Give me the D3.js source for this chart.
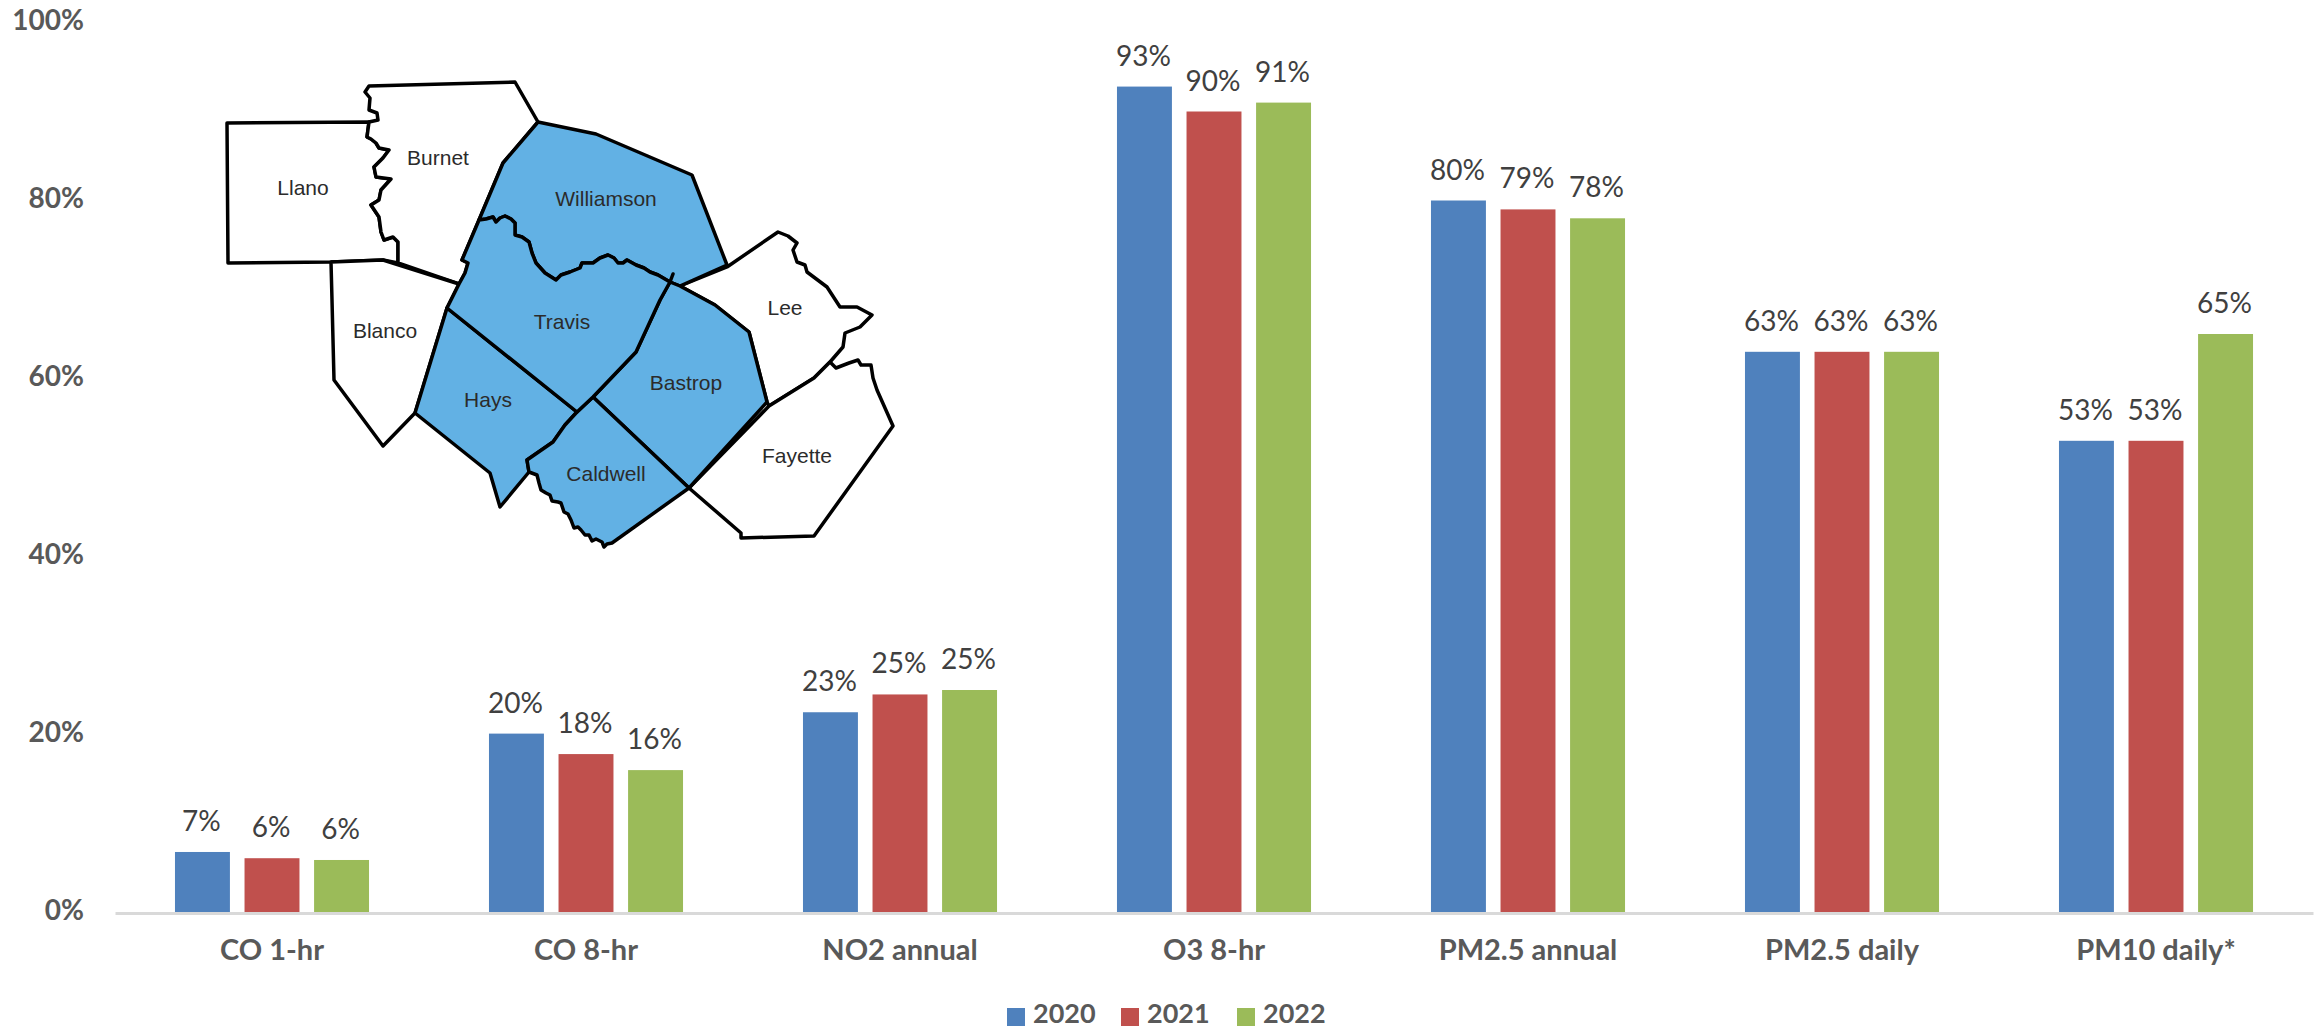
<!DOCTYPE html>
<html><head><meta charset="utf-8">
<style>html,body{margin:0;padding:0;background:#fff;overflow:hidden}svg{display:block}</style>
<script src="https://cdn.jsdelivr.net/npm/d3@7"></script></head>
<body><svg id="c" width="2321" height="1029"></svg>
<script>
const categories = ["CO 1-hr","CO 8-hr","NO2 annual","O3 8-hr","PM2.5 annual","PM2.5 daily","PM10 daily*"];
const years = ["2020","2021","2022"];
const values2020 = [6.8,20.1,22.5,92.8,80,63,53];
const values2021 = [6.1,17.8,24.5,90,79,63,53];
const values2022 = [5.9,16,25,91,78,63,65];
const labels2020 = ["7%","20%","23%","93%","80%","63%","53%"];
const labels2021 = ["6%","18%","25%","90%","79%","63%","53%"];
const labels2022 = ["6%","16%","25%","91%","78%","63%","65%"];
const yTicks = [0,20,40,60,80,100];
const seriesColors = ["#4F81BD","#C0504D","#9BBB59"];

// traced county borders (map picture coordinates)
const riverLlanoBurnet = [[369,122],[367,137],[371,139],[376,143],[379,148],[389,150],[383,158],[374,167],[376,177],[391,179],[381,190],[379,200],[371,205],[379,217],[381,232],[384,240],[393,237],[398,242],[398,263]];
const riverTravisWilliamson = [[479,220],[486,219],[493,217],[496,222],[500,218],[505,216],[511,219],[515,223],[515,235],[522,237],[529,242],[532,253],[536,263],[545,273],[556,280],[561,275],[570,272],[580,268],[582,263],[593,263],[600,258],[608,255],[614,258],[618,263],[623,263],[627,260],[636,265],[644,268],[650,272],[658,275],[670,282]];
const borderTravisBastrop = [[670,282],[660,300],[636,352],[593,397]];
const borderHaysCaldwell = [[577,412],[565,425],[553,442],[527,460],[529,472]];
const riverCaldwellSW = [[529,472],[537,475],[539,483],[541,490],[546,493],[550,495],[552,501],[558,502],[561,503],[564,512],[568,514],[571,520],[574,528],[578,527],[581,530],[585,535],[589,535],[592,541],[596,539],[602,542],[604,547],[607,544],[612,543]];
const riverLeeEast = [[778,232],[788,236],[797,243],[793,250],[797,262],[805,265],[807,272],[827,287],[840,307],[857,307],[872,315],[860,327],[845,333],[843,347],[830,362]];
const countyLlano = [[227,123],...riverLlanoBurnet,[383,260],[331,262],[228,263]];
const countyBurnet = [[369,86],[515,82],[538,122],[503,163],[479,220],[462,260],[468,263],[465,273],[459,284],[398,263],...riverLlanoBurnet.slice().reverse(),[378,120],[377,113],[369,110],[370,98],[365,92]];
const countyBlanco = [[331,262],[383,260],[459,284],[447,308],[415,413],[383,446],[334,380],[332,300]];
const countyWilliamson = [[538,122],[596,134],[692,175],[727,265],[680,286],[670,282],...riverTravisWilliamson.slice().reverse(),[503,163]];
const countyTravis = [...riverTravisWilliamson,[673,274],...borderTravisBastrop,[577,412],[447,308],[459,284],[465,273],[468,263],[462,260]];
const countyBastrop = [[680,286],[715,305],[749,332],[767,402],[689,488],[593,397],...borderTravisBastrop.slice().reverse()];
const countyHays = [[447,308],[577,412],...borderHaysCaldwell.slice(1),[500,507],[490,473],[415,413]];
const countyCaldwell = [[593,397],[689,488],[612,543],...riverCaldwellSW.slice().reverse(),...borderHaysCaldwell.slice().reverse()];
const countyFayette = [[689,488],[769,406],[814,378],[830,362],[836,368],[849,363],[858,360],[861,365],[871,365],[873,378],[877,390],[893,426],[814,536],[741,538],[741,533]];
const countyLee = [[680,286],[727,267],...riverLeeEast,[814,378],[769,406],[767,402],[749,332],[715,305]];
const mapCounties = [
 {name:"Llano",ring:countyLlano,served:false,at:[303,188]},
 {name:"Burnet",ring:countyBurnet,served:false,at:[438,158]},
 {name:"Blanco",ring:countyBlanco,served:false,at:[385,331]},
 {name:"Lee",ring:countyLee,served:false,at:[785,308]},
 {name:"Fayette",ring:countyFayette,served:false,at:[797,456]},
 {name:"Williamson",ring:countyWilliamson,served:true,at:[606,199]},
 {name:"Bastrop",ring:countyBastrop,served:true,at:[686,383]},
 {name:"Hays",ring:countyHays,served:true,at:[488,400]},
 {name:"Caldwell",ring:countyCaldwell,served:true,at:[606,474]},
 {name:"Travis",ring:countyTravis,served:true,at:[562,322]}
];

const W=2321,H=1029;
const left=115,right=2313,top0=22.5,base=912.5;
const font="Lato, Carlito, Calibri, sans-serif";
const svg=d3.select("#c");
const x=d3.scaleBand().domain(categories).range([left,right]).paddingInner(0.382).paddingOuter(0.191);
const xi=d3.scaleBand().domain(years).range([0,x.bandwidth()]).paddingInner(0.21);
const y=d3.scaleLinear().domain([0,100]).range([base,top0]);
const color=d3.scaleOrdinal(years,seriesColors);
const table=years.map((yr,i)=>({yr,vals:[values2020,values2021,values2022][i],labs:[labels2020,labels2021,labels2022][i]}));

// bars
const gs=svg.selectAll("g.s").data(table).join("g").attr("class","s").attr("fill",d=>color(d.yr));
gs.selectAll("rect").data(d=>d.vals.map((v,j)=>({v,c:categories[j],yr:d.yr}))).join("rect")
 .attr("x",d=>x(d.c)+xi(d.yr)).attr("width",xi.bandwidth())
 .attr("y",d=>y(d.v)).attr("height",d=>base-y(d.v));
// data labels
const gl=svg.selectAll("g.l").data(table).join("g").attr("class","l");
gl.selectAll("text").data(d=>d.labs.map((t,j)=>({t,v:d.vals[j],c:categories[j],yr:d.yr}))).join("text")
 .attr("x",d=>x(d.c)+xi(d.yr)+xi.bandwidth()/2-1).attr("y",d=>y(d.v)-21)
 .attr("text-anchor","middle").attr("font-family",font).attr("font-size",28).attr("fill","#404040").text(d=>d.t);

// x axis
const ax=svg.append("g").attr("transform",`translate(0,${base+0.5})`)
 .call(d3.axisBottom(x).tickSize(0).tickPadding(26));
ax.select(".domain").attr("stroke","#d9d9d9").attr("stroke-width",3);
ax.selectAll("text").attr("font-family",font).attr("font-size",29).attr("font-weight",700).attr("fill","#595959");
// y axis
const ay=svg.append("g").attr("transform","translate(84,-2)")
 .call(d3.axisLeft(y).tickValues(yTicks).tickFormat(d=>d+"%").tickSize(0).tickPadding(0));
ay.select(".domain").remove();
ay.selectAll("text").attr("font-family",font).attr("font-size",28).attr("font-weight",700).attr("fill","#595959");

// legend
const legendX=d3.scaleOrdinal(years,[1007,1121,1237]);
const lg=svg.selectAll("g.lg").data(years).join("g").attr("class","lg");
lg.append("rect").attr("x",d=>legendX(d)).attr("y",1008).attr("width",18).attr("height",18).attr("fill",d=>color(d));
lg.append("text").attr("x",d=>legendX(d)+26).attr("y",1023).attr("font-family",font).attr("font-size",27).attr("font-weight",700).attr("fill","#595959").text(d=>d);

// map inset
const geo=d3.geoPath(d3.geoIdentity());
const mg=svg.append("g");
mg.selectAll("path").data(mapCounties).join("path")
 .attr("d",d=>geo({type:"Polygon",coordinates:[[...d.ring,d.ring[0]]]}))
 .attr("fill",d=>d.served?"#62B1E4":"#fff").attr("stroke","#000").attr("stroke-width",3.5).attr("stroke-linejoin","round");
mg.selectAll("text").data(mapCounties).join("text")
 .attr("x",d=>d.at[0]).attr("y",d=>d.at[1]+7).attr("text-anchor","middle")
 .attr("font-family","'Liberation Sans',Arial,sans-serif").attr("font-size",21).attr("fill","#2b2b2b").text(d=>d.name);
</script></body></html>
